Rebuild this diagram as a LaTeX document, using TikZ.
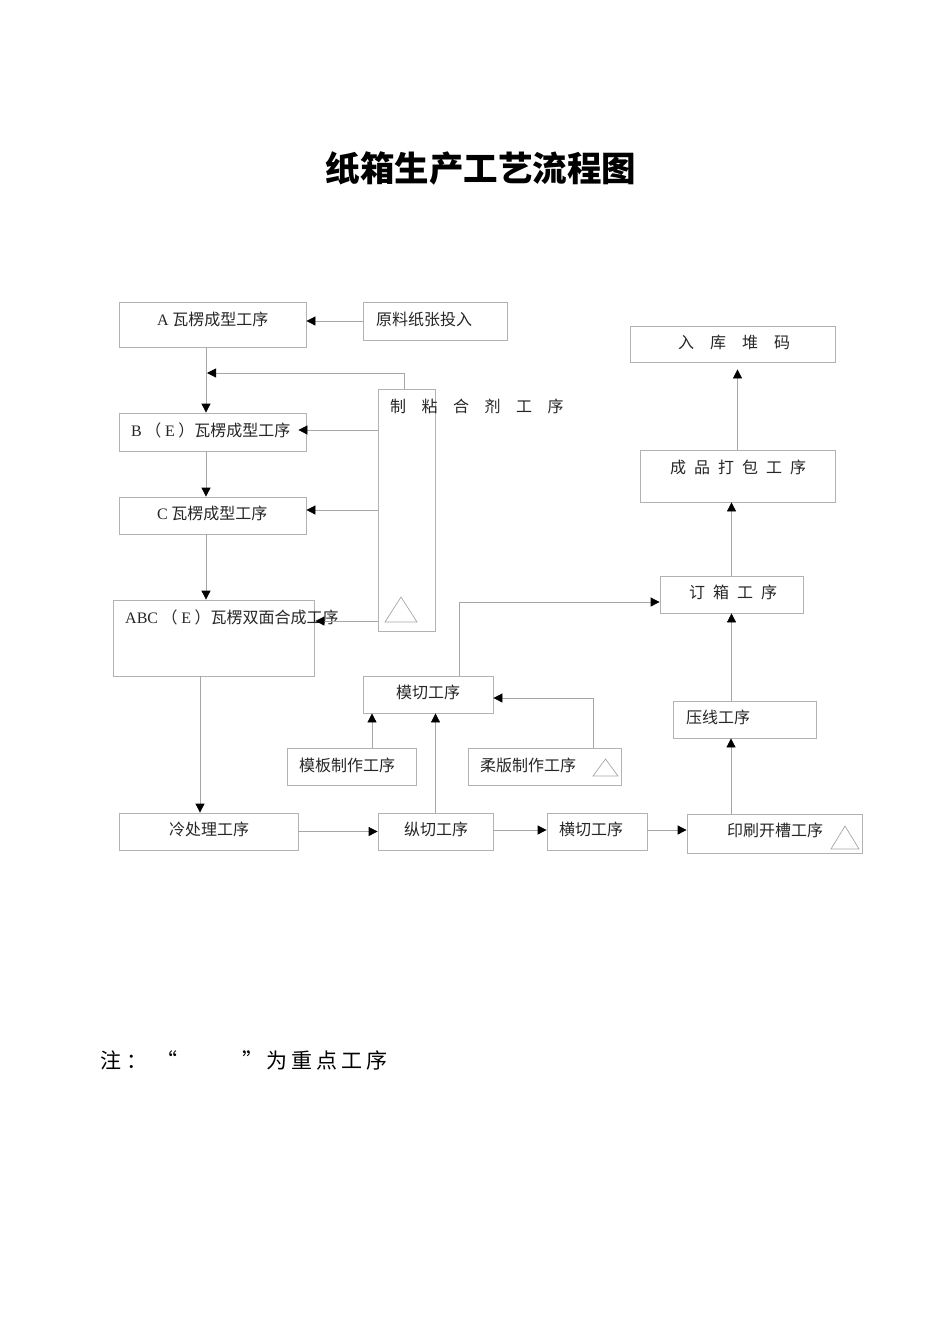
\documentclass[tikz,border=0pt]{standalone}
\usepackage{fontspec}
\setmainfont{Liberation Serif}
\newfontfamily\cjk{Noto Sans CJK SC}
\usetikzlibrary{arrows.meta}
\tikzset{
  box/.style={draw=black!30, line width=0.8pt, inner sep=0pt, minimum width=#1},
  lbl/.style={anchor=west, inner sep=0pt, font=\cjk\fontsize{16}{19}\selectfont, text=black!85},
  conn/.style={draw=black!35, line width=0.8pt},
  arr/.style={conn, -{Triangle[length=9pt,width=9pt,color=black]}},
  tri/.style={draw=black!35, line width=0.7pt},
  note/.style={anchor=west, inner sep=0pt, font=\cjk\fontsize{21}{25}\selectfont}
}
\begin{document}
\begin{tikzpicture}[x=1pt,y=-1pt]
\path[use as bounding box] (0,0) rectangle (950,1344);

% title
\node[font=\cjk\bfseries\fontsize{34.5}{40}\selectfont] (title) at (481,168) {纸箱生产工艺流程图};

% boxes
\node[box=187pt, minimum height=45pt] (A) at (212.5,324.5) {};
\node[box=144pt, minimum height=38pt] (yuan) at (435,321) {};
\node[box=205pt, minimum height=36pt] (ruku) at (732.5,344) {};
\node[box=57pt, minimum height=242pt] (zhinian) at (406.5,510) {};
\node[box=187pt, minimum height=38pt] (B) at (212.5,432) {};
\node[box=187pt, minimum height=37pt] (C) at (212.5,515.5) {};
\node[box=201pt, minimum height=76pt] (ABC) at (213.5,638) {};
\node[box=195pt, minimum height=52pt] (chengpin) at (737.5,476) {};
\node[box=143pt, minimum height=37pt] (dingxiang) at (731.5,594.5) {};
\node[box=130pt, minimum height=37pt] (moqie) at (428,694.5) {};
\node[box=143pt, minimum height=37pt] (yaxian) at (744.5,719.5) {};
\node[box=129pt, minimum height=37pt] (muban) at (351.5,766.5) {};
\node[box=153pt, minimum height=37pt] (rouban) at (544.5,766.5) {};
\node[box=179pt, minimum height=37pt] (lengchuli) at (208.5,831.5) {};
\node[box=115pt, minimum height=37pt] (zongqie) at (435.5,831.5) {};
\node[box=100pt, minimum height=37pt] (hengqie) at (597,831.5) {};
\node[box=175pt, minimum height=39pt] (yinshua) at (774.5,833.5) {};

% labels
\node[lbl] (tA) at (157,319) {{\rmfamily A} 瓦楞成型工序};
\node[lbl] (tyuan) at (376,319) {原料纸张投入};
\node[lbl] (truku) at (678,342) {入\hspace{16pt}库\hspace{16pt}堆\hspace{16pt}码};
\node[lbl] (tzhinian) at (390,406) {制\hspace{15.5pt}粘\hspace{15.5pt}合\hspace{15.5pt}剂\hspace{15.5pt}工\hspace{15.5pt}序};
\node[lbl] (tB) at (131,430) {{\rmfamily B} （ {\rmfamily E} ）瓦楞成型工序};
\node[lbl] (tC) at (157,513) {{\rmfamily C} 瓦楞成型工序};
\node[lbl] (tABC) at (125,617) {{\rmfamily ABC} （ {\rmfamily E} ）瓦楞双面合成工序};
\node[lbl] (tchengpin) at (670,467) {成\hspace{8pt}品\hspace{8pt}打\hspace{8pt}包\hspace{8pt}工\hspace{8pt}序};
\node[lbl] (tdingxiang) at (689,592) {订\hspace{8pt}箱\hspace{8pt}工\hspace{8pt}序};
\node[lbl] (tmoqie) at (396,692) {模切工序};
\node[lbl] (tyaxian) at (686,717) {压线工序};
\node[lbl] (tmuban) at (299,765) {模板制作工序};
\node[lbl] (trouban) at (480,765) {柔版制作工序};
\node[lbl] (tlengchuli) at (169,829) {冷处理工序};
\node[lbl] (tzongqie) at (404,829) {纵切工序};
\node[lbl] (thengqie) at (559,829) {横切工序};
\node[lbl] (tyinshua) at (727,830) {印刷开槽工序};

% key-process triangles
\draw[tri] (385,622) -- (401,597) -- (417,622) -- cycle;
\draw[tri] (593,776) -- (605.5,759) -- (618,776) -- cycle;
\draw[tri] (831,849) -- (845,826) -- (859,849) -- cycle;

% connectors
\draw[arr] (yuan.west) -- (yuan.west -| A.east);
\coordinate (pA) at ([xshift=-6.5pt]A.south);
\draw[arr] (pA) -- (pA |- B.north);
\coordinate (j1) at (207,373);
\draw[arr] ([xshift=-2.5pt]zhinian.north) |- (j1);
\coordinate (cB) at ([xshift=-8pt,yshift=2pt]B.east);
\draw[arr] (cB -| zhinian.west) -- (cB);
\coordinate (cC) at ([yshift=5.5pt]C.east);
\draw[arr] (cC -| zhinian.west) -- (cC);
\coordinate (cABC) at ([xshift=1pt,yshift=17pt]ABC.east);
\draw[arr] (cABC -| zhinian.west) -- (cABC);
\coordinate (pB) at ([xshift=-6.5pt]B.south);
\draw[arr] (pB) -- (pB |- C.north);
\coordinate (pC) at ([xshift=-6.5pt]C.south);
\draw[arr] (pC) -- (pC |- ABC.north);
\coordinate (pABC) at ([xshift=-13.5pt]ABC.south);
\draw[arr] (pABC) -- (pABC |- lengchuli.north);
\draw[arr] (lengchuli.east) -- (zongqie.west);
\coordinate (pZ) at ([yshift=1.5pt]zongqie.east);
\draw[arr] (pZ) -- (pZ -| hengqie.west);
\coordinate (pH) at ([yshift=1.5pt]hengqie.east);
\draw[arr] (pH) -- (pH -| yinshua.west);
\draw[arr] (zongqie.north) -- (zongqie.north |- moqie.south);
\coordinate (pM) at ([xshift=20.5pt]muban.north);
\draw[arr] (pM) -- (pM |- moqie.south);
\coordinate (m3) at ([yshift=-3.5pt]moqie.east);
\draw[arr] ([xshift=48.5pt]rouban.north) |- (m3);
\coordinate (d1) at ([yshift=-7.5pt]dingxiang.west);
\draw[arr] ([xshift=31pt]moqie.north) |- (d1);
\coordinate (pY) at ([xshift=-43.5pt]yinshua.north);
\draw[arr] (pY) -- (pY |- yaxian.south);
\draw[arr] (dingxiang.south |- yaxian.north) -- (dingxiang.south);
\draw[arr] (dingxiang.north) -- (dingxiang.north |- chengpin.south);
\coordinate (r1) at ([yshift=-7pt]ruku.south);
\draw[arr] (chengpin.north) -- (chengpin.north |- r1);

% note
\node[note] (note1) at (100,1060) {注\hspace{5pt}：};
\node[note] (note2) at (156,1060) {“};
\node[note] (note3) at (242,1060) {”\hspace{3pt}为\hspace{4pt}重\hspace{4pt}点\hspace{4pt}工\hspace{4pt}序};
\end{tikzpicture}
\end{document}
